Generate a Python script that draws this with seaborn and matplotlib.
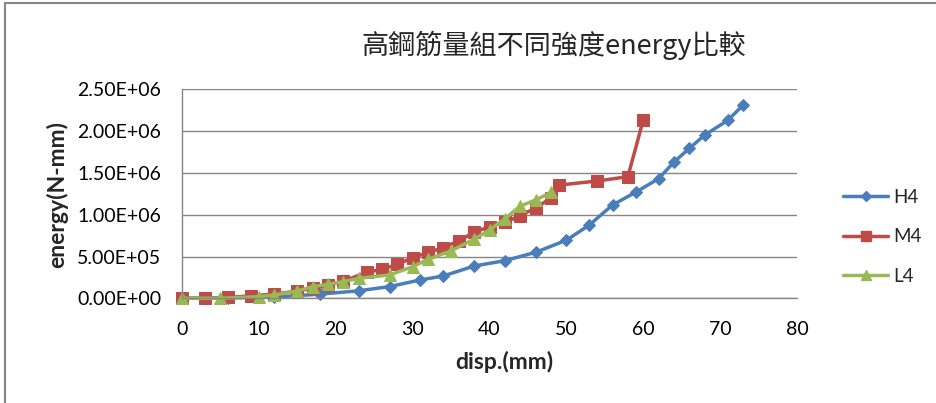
import matplotlib
matplotlib.use("Agg")
import matplotlib.pyplot as plt
from matplotlib.lines import Line2D
from matplotlib.ticker import FuncFormatter, MultipleLocator
import numpy as np
import pandas as pd
import seaborn as sns

# displacement (mm) and absorbed energy (N-mm) for each strength group
h4_disp = [0, 6, 12, 18, 23, 27, 31, 34, 38, 42, 46, 50, 53, 56, 59, 62, 64, 66, 68, 71, 73]
h4_energy = [0, 0.005e6, 0.015e6, 0.05e6, 0.09e6, 0.14e6, 0.22e6, 0.267e6, 0.386e6, 0.45e6,
             0.55e6, 0.695e6, 0.877e6, 1.116e6, 1.268e6, 1.431e6, 1.63e6, 1.794e6, 1.953e6,
             2.129e6, 2.312e6]

m4_disp = [0, 3, 6, 9, 12, 15, 17, 19, 21, 24, 26, 28, 30, 32, 34, 36, 38, 40, 42, 44, 46,
           48, 49, 54, 58, 60]
m4_energy = [0, 0, 0.01e6, 0.03e6, 0.05e6, 0.087e6, 0.12e6, 0.16e6, 0.205e6, 0.311e6, 0.345e6,
             0.405e6, 0.486e6, 0.548e6, 0.605e6, 0.687e6, 0.79e6, 0.857e6, 0.907e6, 0.99e6,
             1.08e6, 1.2e6, 1.354e6, 1.403e6, 1.455e6, 2.133e6]

l4_disp = [0, 5, 10, 12, 15, 17, 19, 21, 23, 27, 30, 32, 35, 38, 40, 42, 44, 46, 48]
l4_energy = [0, 0, 0.02e6, 0.04e6, 0.087e6, 0.139e6, 0.167e6, 0.2e6, 0.239e6, 0.279e6,
             0.378e6, 0.466e6, 0.568e6, 0.707e6, 0.817e6, 0.951e6, 1.104e6, 1.176e6, 1.266e6]

series_names = ["H4", "M4", "L4"]
title_text = "高鋼筋量組不同強度energy比較"
x_label = "disp.(mm)"
y_label = "energy(N-mm)"

df = pd.concat([
    pd.DataFrame({"disp": h4_disp, "energy": h4_energy, "series": "H4"}),
    pd.DataFrame({"disp": m4_disp, "energy": m4_energy, "series": "M4"}),
    pd.DataFrame({"disp": l4_disp, "energy": l4_energy, "series": "L4"}),
], ignore_index=True)

sns.set_theme(style="white")
plt.rcParams["font.family"] = ["Lato", "DejaVu Sans"]

colors = {"H4": "#4A7EBB", "M4": "#BE4B48", "L4": "#98B954"}
markers = {"H4": "D", "M4": "s", "L4": "^"}
msizes = {"H4": 6.5, "M4": 8.5, "L4": 9}

fig = plt.figure(figsize=(9.36, 4.03), dpi=100)
ax = fig.add_axes([182 / 936, 1 - 298.3 / 403, (797 - 182) / 936, (298.3 - 89.3) / 403])

sns.lineplot(data=df, x="disp", y="energy", hue="series", style="series",
             hue_order=series_names, style_order=series_names,
             palette=colors, markers=markers, dashes=False, sort=False,
             estimator=None, linewidth=2.5, legend=False, ax=ax)

for line, name in zip(ax.lines, series_names):
    line.set_markersize(msizes[name])
    line.set_markeredgecolor(colors[name])
    line.set_markerfacecolor(colors[name])
    line.set_clip_on(False)

ax.set_xlim(0, 80)
ax.set_ylim(0, 2.5e6)
ax.xaxis.set_major_locator(MultipleLocator(10))
ax.yaxis.set_major_locator(MultipleLocator(0.5e6))
ax.yaxis.set_major_formatter(FuncFormatter(lambda v, p: f"{v:.2E}"))
ax.grid(axis="y", color="#868686", linewidth=1.0)
ax.grid(axis="x", visible=False)
ax.set_axisbelow(True)
for side in ["top", "right"]:
    ax.spines[side].set_visible(False)
for side in ["left", "bottom"]:
    ax.spines[side].set_color("#868686")
    ax.spines[side].set_linewidth(1.0)
ax.tick_params(axis="both", length=0, labelsize=14, colors="black")
ax.tick_params(axis="y", pad=15)
ax.tick_params(axis="x", pad=16)

ax.set_xlabel(x_label, fontsize=16.5, fontweight="bold")
ax.set_ylabel(y_label, fontsize=16.5, fontweight="bold")
ax.xaxis.set_label_coords((504 - 182) / 615, -(362 - 298.3) / 209)
ax.yaxis.set_label_coords(-(182 - 57) / 615, (298.3 - 194) / 209)
ax.xaxis.label.set_va("center")
ax.yaxis.label.set_va("center")

fig.text(554 / 936, 1 - 45 / 403, title_text, ha="center", va="center", fontsize=19.5,
         family=["Noto Sans CJK TC", "DejaVu Sans"])

handles = [Line2D([0], [0], color=colors[n], linewidth=2.5, marker=markers[n],
                  markersize=msizes[n] * 0.8, markeredgecolor=colors[n]) for n in series_names]
fig.legend(handles, series_names, loc="center left",
           bbox_to_anchor=(843 / 936, 1 - 237 / 403), frameon=False, fontsize=13.5,
           handlelength=2.4, handletextpad=0.3, labelspacing=1.2, borderpad=0,
           borderaxespad=0)

# outer chart frame (top and left edges)
fig.add_artist(Line2D([5 / 936, 5 / 936], [0, 1 - 3 / 403], transform=fig.transFigure,
                      color="#868686", linewidth=1.5))
fig.add_artist(Line2D([5 / 936, 1], [1 - 3 / 403, 1 - 3 / 403], transform=fig.transFigure,
                      color="#868686", linewidth=1.5))

fig.savefig("out.png", dpi=100)
